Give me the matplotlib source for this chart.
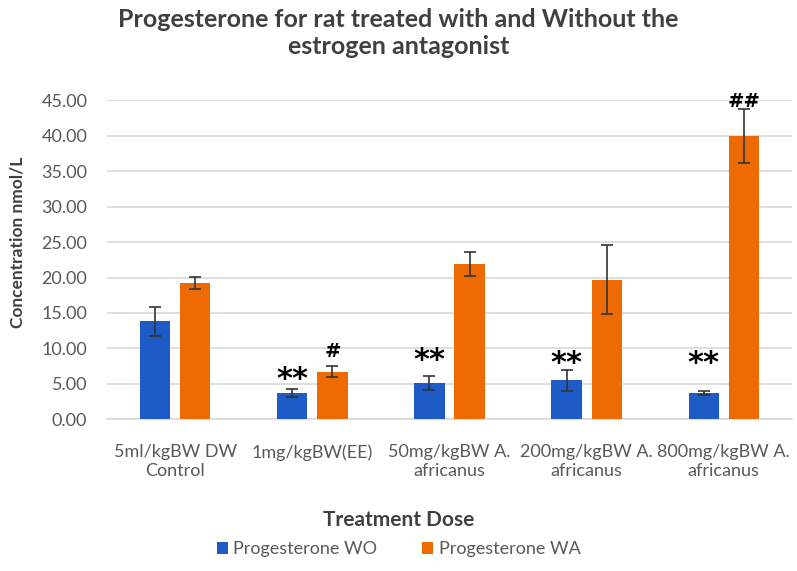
import matplotlib.pyplot as plt
import numpy as np

plt.rcParams['font.family'] = ['Lato', 'DejaVu Sans']

categories = ["5ml/kgBW DW\nControl", "1mg/kgBW(EE)", "50mg/kgBW A.\nafricanus",
              "200mg/kgBW A.\nafricanus", "800mg/kgBW A.\nafricanus"]
wo_vals = [13.8, 3.7, 5.1, 5.5, 3.7]
wo_err = [2.0, 0.55, 0.95, 1.5, 0.33]
wa_vals = [19.2, 6.7, 21.9, 19.7, 40.0]
wa_err = [0.85, 0.8, 1.65, 4.85, 3.8]
# significance marks and the height (in nmol/L) where they are written
wo_marks = ["", "**", "**", "**", "**"]
wo_mark_y = [0, 5.65, 8.25, 7.85, 7.85]
wa_marks = ["", "#", "", "", "##"]
wa_mark_y = [0, 9.6, 0, 0, 44.8]

blue = "#1F5BC6"
orange = "#EE6A02"

fig = plt.figure(figsize=(7.97, 5.71), dpi=100)
ax = fig.add_axes([0.134, 0.266, 0.86, 0.558])

x = np.arange(len(categories))
w = 0.22
off = 0.146
ekw = dict(ecolor="#333333", elinewidth=1.2, capsize=4, capthick=1.2)
ax.bar(x - off, wo_vals, w, color=blue, label="Progesterone WO", zorder=3, yerr=wo_err, error_kw=ekw)
ax.bar(x + off, wa_vals, w, color=orange, label="Progesterone WA", zorder=3, yerr=wa_err, error_kw=ekw)

for i in range(len(x)):
    if wo_marks[i]:
        ax.text(x[i] - off, wo_mark_y[i], wo_marks[i], ha="center", va="center",
                fontsize=22, fontweight="bold", color="black", family="DejaVu Sans", zorder=4)
    if wa_marks[i]:
        ax.text(x[i] + off, wa_mark_y[i], wa_marks[i], ha="center", va="center",
                fontsize=14, fontweight="bold", color="black", family="DejaVu Sans", zorder=4)

ax.set_xlim(-0.5, len(x) - 0.5)
ax.set_ylim(0, 45)
ax.set_yticks(np.arange(0, 46, 5))
ax.set_yticklabels([f"{v:.2f}" for v in np.arange(0, 46, 5)])
ax.set_xticks(x)
ax.set_xticklabels(categories, linespacing=1.2)
ax.tick_params(axis="both", length=0, labelcolor="#595959")
ax.tick_params(axis="y", labelsize=13, pad=14)
ax.tick_params(axis="x", labelsize=13, pad=18)
ax.grid(axis="y", color="#D9D9D9", linewidth=1.2, zorder=0)
for s in ["top", "right", "left"]:
    ax.spines[s].set_visible(False)
ax.spines["bottom"].set_color("#D9D9D9")
ax.spines["bottom"].set_linewidth(1.2)

ax.set_ylabel("Concentration nmol/L", fontsize=12.5, fontweight="bold", color="#404040")
ax.yaxis.set_label_coords(-0.118, 0.555)
fig.text(0.5, 0.09, "Treatment Dose", ha="center", va="center", fontsize=15,
         fontweight="bold", color="#404040")
fig.suptitle("Progesterone for rat treated with and Without the\nestrogen antagonist",
             x=0.5, y=0.986, fontsize=18, fontweight="bold", color="#404040", linespacing=1.2)

fig.legend(loc="center", bbox_to_anchor=(0.5, 0.038), ncol=2, frameon=False,
           fontsize=13, handlelength=0.6, handleheight=0.6, columnspacing=2.5,
           handletextpad=0.3, labelcolor="#595959")

fig.savefig("out.png", dpi=100)
